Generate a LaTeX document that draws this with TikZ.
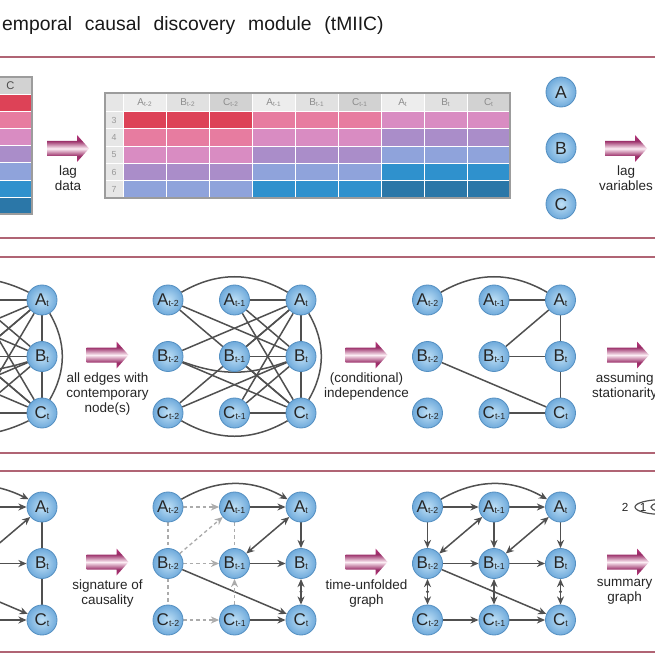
\documentclass[tikz,border=0pt]{standalone}
\usepackage{fontspec}
\setmainfont{Liberation Sans}
\usetikzlibrary{positioning,arrows.meta,backgrounds}

\definecolor{dat1}{HTML}{DD4257}
\definecolor{dat2}{HTML}{E77CA0}
\definecolor{dat3}{HTML}{D98CC2}
\definecolor{dat4}{HTML}{AA8DC9}
\definecolor{dat5}{HTML}{8FA3DB}
\definecolor{dat6}{HTML}{2F91CD}
\definecolor{dat7}{HTML}{2B77A8}
\definecolor{headA}{HTML}{EDEDED}
\definecolor{headB}{HTML}{E1E1E1}
\definecolor{headC}{HTML}{D2D2D2}
\definecolor{idxgray}{HTML}{E6E6E6}
\definecolor{tabgray}{HTML}{9C9C9C}
\definecolor{ballin}{HTML}{BFE0F6}
\definecolor{ballout}{HTML}{6FAADB}
\definecolor{balledge}{HTML}{5590C2}
\definecolor{edgegray}{HTML}{505050}
\definecolor{dashgray}{HTML}{ABABAB}
\definecolor{panelline}{HTML}{B06474}
\definecolor{panelglow}{HTML}{F0BCC8}
\definecolor{flowpink}{HTML}{B5357A}
\definecolor{flowlight}{HTML}{FCEDF4}

\pgfdeclareverticalshading{flowshade}{100bp}{color(0bp)=(flowpink); color(25bp)=(flowpink); color(36bp)=(flowpink!85!black); color(50bp)=(flowlight); color(64bp)=(flowpink!85!black); color(75bp)=(flowpink); color(100bp)=(flowpink)}

\newcommand{\lagvar}[2]{#1\raisebox{-1pt}{\fontsize{7.5}{7.5}\selectfont#2}}
\newcommand{\headvar}[2]{#1\raisebox{-0.8pt}{\fontsize{5.5}{5.5}\selectfont#2}}
\newcommand{\widespaces}{\spaceskip=11pt\relax}
% fat pink arrow centred at a named coordinate
\newcommand{\flowarrow}[3]{%
  \coordinate (#1) at (#2,#3);
  \shade[shading=flowshade] ([shift={(-21,-7.5)}]#1) -- ++(30,0) -- ++(0,-6) -- ++(12,13.5)
    -- ++(-12,13.5) -- ++(0,-6) -- ++(-30,0) -- cycle;}

\begin{document}
\begin{tikzpicture}[x=0.3mm,y=-0.3mm,>={Stealth[length=7pt,width=6pt]}]
\tikzstyle{v}=[circle,draw=balledge,line width=0.25mm,inner color=ballin,outer color=ballout,minimum size=9mm,inner sep=0pt,text=black!85,font=\fontsize{14.5}{14.5}\selectfont]
\tikzstyle{lnk}=[draw=edgegray,line width=0.45mm]
\tikzstyle{dlnk}=[draw=dashgray,line width=0.4mm,dash pattern=on 3pt off 2.5pt]
\tikzstyle{dotm}=[circle,fill=edgegray,inner sep=0pt,minimum size=2.8pt]
\tikzstyle{lbl}=[align=center,inner sep=0pt,text=black!85,font=\fontsize{11.5}{12.8}\selectfont]
\tikzstyle{hdr}=[inner sep=0pt,text=black!45,font=\fontsize{8.5}{8.5}\selectfont]
\tikzstyle{idx}=[inner sep=0pt,text=black!40,font=\fontsize{7.5}{7.5}\selectfont]
\useasboundingbox (0,0) rectangle (655,655);
\clip (0,0) rectangle (655,655);

% title
\node[anchor=base west,inner sep=0pt,text=black!90,font=\fontsize{16.5}{20}\selectfont] (title) at (2,31) {\widespaces emporal causal discovery module (tMIIC)};

% panel borders
\foreach \y in {57,238,257,453,471,652}{
  \draw[panelglow,line width=0.8mm] (0,\y) -- (655,\y);
  \draw[panelline,line width=0.35mm] (0,\y) -- (655,\y);
}

% data table (cut)
\path[fill=headC,draw=white,line width=0.25mm] (-11,77) rectangle (32,94);
\node[font=\fontsize{9.5}{9.5}\selectfont,text=black!70] (datC) at (10.5,85.5) {C};
\foreach \row in {1,...,7}
  \path[fill=dat\row,draw=white,line width=0.25mm] (-11,{94+17.2*(\row-1)}) rectangle ++(43,17.2);
\draw[tabgray,line width=0.6mm] (-11,77) rectangle (32,214.4);

% lagged table
\path[fill=idxgray,draw=white,line width=0.25mm] (105,93.5) rectangle (123,111.5);
\foreach \grp/\sub in {0/t-2,1/t-1,2/t}{
  \foreach \col/\nm in {0/A,1/B,2/C}{
    \pgfmathsetmacro\xl{123+43*(3*\grp+\col)}
    \path[fill=head\nm,draw=white,line width=0.25mm] (\xl,93.5) rectangle ++(43,18);
    \node[hdr] at ({\xl+21.5},102.5) {\headvar{\nm}{\sub}};
  }
}
\foreach \row in {3,...,7}{
  \pgfmathsetmacro\yt{111.5+17.3*(\row-3)}
  \path[fill=idxgray,draw=white,line width=0.25mm] (105,\yt) rectangle ++(18,17.3);
  \node[idx] at (114,{\yt+8.65}) {\row};
  \foreach \grp in {0,1,2}{
    \pgfmathtruncatemacro\kk{\row-2+\grp}
    \foreach \col in {0,1,2}
      \path[fill=dat\kk,draw=white,line width=0.25mm] ({123+43*(3*\grp+\col)},\yt) rectangle ++(43,17.3);
  }
}
\draw[tabgray,line width=0.6mm] (105,93.5) rectangle (510,198);

\node[v,font=\fontsize{15}{15}\selectfont] (A) at (561,92) {A};
\node[v,font=\fontsize{15}{15}\selectfont] (B) at (561,148) {B};
\node[v,font=\fontsize{15}{15}\selectfont] (C) at (561,204) {C};

\flowarrow{lagdata}{68}{148.5}
\node[lbl,below=5.2mm of lagdata] (lagdatatxt) {lag\\data};
\flowarrow{lagvars}{626}{148.5}
\node[lbl,below=5.2mm of lagvars] (lagvarstxt) {lag\\variables};

% skeleton panel
\foreach \nm/\y in {A/300,B/356.5,C/413}{
  \coordinate (full\nm2) at (-91,\y);
  \coordinate (full\nm1) at (-24.5,\y);
  \node[v] (full\nm0) at (42,\y) {\lagvar{\nm}{t}};
  \foreach \g/\x in {cont/168,skel/427.5}{
    \node[v] (\g\nm2) at (\x,\y) {\lagvar{\nm}{t-2}};
    \node[v] (\g\nm1) at ({\x+66.5},\y) {\lagvar{\nm}{t-1}};
    \node[v] (\g\nm0) at ({\x+133},\y) {\lagvar{\nm}{t}};
  }
}
\flowarrow{contemp}{107.5}{355}
\node[lbl,below=5.2mm of contemp] (contemptxt) {all edges with\\contemporary\\node(s)};
\flowarrow{indep}{366.5}{355}
\node[lbl,below=5.2mm of indep] (indeptxt) {(conditional)\\independence};
\flowarrow{station}{628}{355}
\node[lbl,below=5.2mm of station,xshift=-1mm] (stationtxt) {assuming\\stationarity};

% orientation panel
\foreach \nm/\y in {A/507,B/563.5,C/620}{
  \coordinate (orie\nm2) at (-91,\y);
  \coordinate (orie\nm1) at (-24.5,\y);
  \node[v] (orie\nm0) at (42,\y) {\lagvar{\nm}{t}};
  \foreach \g/\x in {sig/168,unf/427.5}{
    \node[v] (\g\nm2) at (\x,\y) {\lagvar{\nm}{t-2}};
    \node[v] (\g\nm1) at ({\x+66.5},\y) {\lagvar{\nm}{t-1}};
    \node[v] (\g\nm0) at ({\x+133},\y) {\lagvar{\nm}{t}};
  }
}
\flowarrow{signat}{107.5}{562}
\node[lbl,below=5.2mm of signat] (signattxt) {signature of\\causality};
\flowarrow{unfold}{366.5}{562}
\node[lbl,below=5.2mm of unfold] (unfoldtxt) {time-unfolded\\graph};
\flowarrow{summ}{628}{562}
\node[lbl,below=5.2mm of summ,xshift=-1mm] (summtxt) {summary\\graph};

\node[font=\fontsize{10}{10}\selectfont,text=black!85] (lagtwo) at (625,507) {2};
\node[font=\fontsize{10}{10}\selectfont,text=black!85] (lagone) at (643,507) {1};
\draw[lnk,line width=0.35mm] (664,507) ellipse [x radius=29,y radius=7.5];
\draw[lnk,line width=0.35mm] (672,507) ellipse [x radius=21,y radius=5.5];

\begin{scope}[on background layer]
\fill[white] (0,0) rectangle (655,655);
% all edges with a contemporary node
\foreach \g in {full,cont}{
  \draw[lnk] (\g A2) to[bend left=30] (\g A0);
  \draw[lnk] (\g B2) to[bend right=20] (\g B0);
  \draw[lnk] (\g C2) to[bend right=30] (\g C0);
  \draw[lnk] (\g A0) to[bend left=30] (\g C0);
  \draw[lnk] (\g A0) -- (\g B0);
  \draw[lnk] (\g B0) -- (\g C0);
  \foreach \p in {A1,B1,C1}
    \foreach \q in {A0,B0,C0}
      \draw[lnk] (\g\p) -- (\g\q);
  \foreach \p/\q in {A2/B0,A2/C0,B2/A0,B2/C0,C2/A0,C2/B0}
    \draw[lnk] (\g\p) -- (\g\q);
}
% skeleton
\draw[lnk] (skelA2) to[bend left=30] (skelA0);
\draw[lnk] (skelA1) -- (skelA0);
\draw[lnk] (skelB1) -- (skelA0);
\draw[lnk] (skelA0) -- (skelB0);
\draw[lnk] (skelB1) -- (skelB0);
\draw[lnk] (skelB0) -- (skelC0);
\draw[lnk] (skelB2) -- (skelC0);
\draw[lnk] (skelC1) -- (skelC0);
% oriented (cut)
\draw[lnk,->] (orieA2) to[bend left=30] (orieA0);
\draw[lnk,->] (orieA1) -- (orieA0);
\draw[lnk,->] (orieB1) -- (orieA0);
\draw[lnk] (orieA0) -- (orieB0);
\draw[lnk,->] (orieB1) -- (orieB0);
\draw[lnk] (orieB0) -- (orieC0);
\draw[lnk,->] (orieB2) -- (orieC0);
\draw[lnk,->] (orieC1) -- (orieC0);
% signature of causality
\draw[lnk,->] (sigA2) to[bend left=30] (sigA0);
\draw[lnk,->] (sigA1) -- (sigA0);
\draw[lnk,->] (sigA0) -- (sigB0);
\draw[lnk,<->] (sigA0) -- (sigB1);
\draw[lnk,->] (sigB1) -- (sigB0);
\draw[lnk,<->] (sigB0) -- node[dotm]{} (sigC0);
\draw[lnk,->] (sigB2) -- (sigC0);
\draw[lnk,->] (sigC1) -- (sigC0);
\draw[dlnk,->] (sigA2) -- (sigA1);
\draw[dlnk,->] (sigB2) -- (sigA1);
\draw[dlnk,->] (sigB2) -- (sigB1);
\draw[dlnk,->] (sigC2) -- (sigC1);
\draw[dlnk,->] (sigC1) -- (sigB1);
\draw[dlnk] (sigA2) -- (sigB2);
\draw[dlnk] (sigB2) -- (sigC2);
\draw[dlnk] (sigA1) -- (sigB1);
% time-unfolded graph
\draw[lnk,->] (unfA2) to[bend left=30] (unfA0);
\draw[lnk,->] (unfB2) -- (unfC0);
\foreach \lag/\nxt in {2/1,1/0}{
  \draw[lnk,->] (unfA\lag) -- (unfA\nxt);
  \draw[lnk,->] (unfB\lag) -- (unfB\nxt);
  \draw[lnk,->] (unfC\lag) -- (unfC\nxt);
  \draw[lnk,<->] (unfB\lag) -- (unfA\nxt);
}
\foreach \lag in {2,1,0}{
  \draw[lnk,->] (unfA\lag) -- (unfB\lag);
  \draw[lnk,<->] (unfB\lag) -- node[dotm]{} (unfC\lag);
}
\end{scope}
\end{tikzpicture}
\end{document}
